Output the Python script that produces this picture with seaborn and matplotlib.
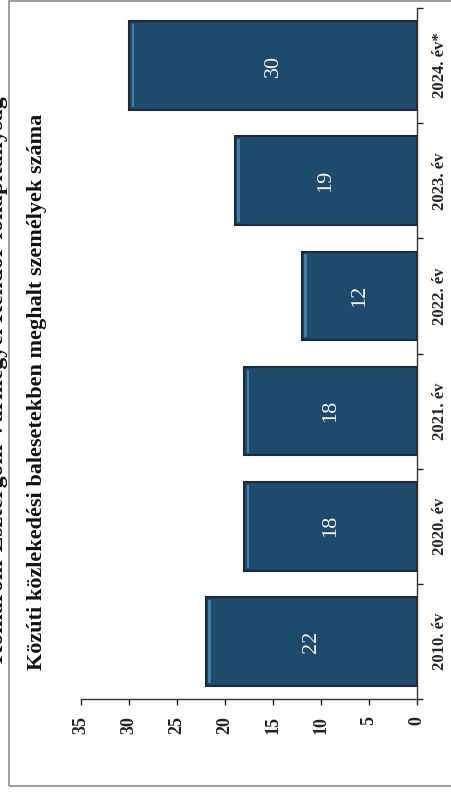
import numpy as np
import pandas as pd
import matplotlib.pyplot as plt
from matplotlib.patches import Rectangle
from matplotlib.ticker import NullFormatter
import seaborn as sns

years = ['2010. év', '2020. év', '2021. év', '2022. év', '2023. év', '2024. év*']
deaths = [22, 18, 18, 12, 19, 30]
value_ticks = [0, 5, 10, 15, 20, 25, 30, 35]
title = 'Közúti közlekedési balesetekben meghalt személyek száma'
header = 'Komárom-Esztergom Vármegyei Rendőr-főkapitányság'

df = pd.DataFrame({'ev': years, 'halott': deaths})

sns.set_style('white')
plt.rcParams['font.family'] = ['Liberation Serif', 'DejaVu Serif']

W, H = 451, 792
fig = plt.figure(figsize=(W / 100, H / 100), dpi=100)
ax = fig.add_axes([81 / W, 1 - 699 / H, (417 - 81) / W, (699 - 8) / H])

# the whole page is turned 90 degrees: bars grow to the left, 2010 at the bottom
order = years[::-1]
sns.barplot(data=df, x='halott', y='ev', order=order, orient='h',
            color='#1e4a6c', saturation=1, width=0.77,
            edgecolor='#1c2a38', linewidth=1.5, ax=ax)
bars = ax.containers[0]

# light bevel strip at the end of each bar
ends = df.set_index('ev').loc[order, 'halott'].to_numpy()
ax.barh(np.arange(len(order)), 0.28, left=ends - 0.55, height=0.72,
        color='#3b7fab', linewidth=0)

ax.bar_label(bars, fmt='%d', label_type='center', rotation=90,
             color='#f2f4f6', fontsize=16)

ax.set_xlim(35, 0)
ax.set_ylim(len(years) - 0.5, -0.5)
ax.set_xlabel('')
ax.set_ylabel('')

# value axis (bottom)
ax.set_xticks(value_ticks)
ax.set_xticklabels([str(v) for v in value_ticks], rotation=90,
                   fontweight='bold', fontsize=13)
ax.tick_params(axis='x', direction='out', length=4, width=1, pad=8,
               bottom=True, colors='#222222')

# category axis (right): ticks between the bars, labels at the bar centres
ax.yaxis.tick_right()
ax.set_yticks(np.arange(-0.5, len(years)))
ax.yaxis.set_major_formatter(NullFormatter())
ax.set_yticks(range(len(years)), minor=True)
ax.set_yticklabels(order, minor=True, rotation=90, fontweight='bold',
                   fontsize=12, va='center')
ax.tick_params(axis='y', which='major', direction='out', length=4, width=1,
               right=True, colors='#222222')
ax.tick_params(axis='y', which='minor', length=0, pad=11, right=True,
               labelright=True)

for side in ['top', 'left']:
    ax.spines[side].set_visible(False)
for side in ['bottom', 'right']:
    ax.spines[side].set_color('#333333')
    ax.spines[side].set_linewidth(1)

fig.text(37 / W, 1 - 392 / H, title, rotation=90, ha='center', va='center',
         fontsize=16, fontweight='bold', color='#111111')
fig.text(-2 / W, 1 - 380 / H, header, rotation=90, ha='center', va='center',
         fontsize=17, fontweight='bold', color='#111111')

fig.add_artist(Rectangle((9 / W, 1 - 786 / H), 460 / W, 785 / H,
                         transform=fig.transFigure, fill=False,
                         edgecolor='#8c8c8c', linewidth=1.2))

fig.savefig('out.png', dpi=100)
